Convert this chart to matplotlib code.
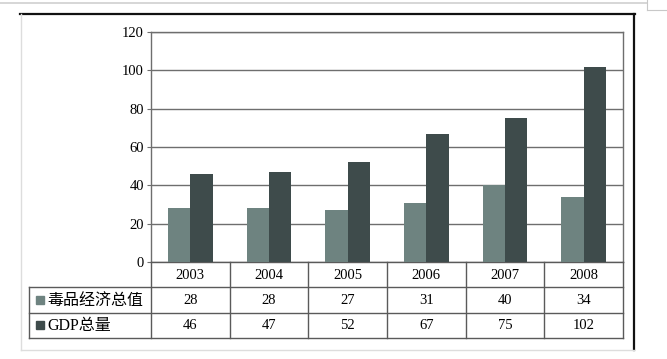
import numpy as np
import matplotlib

matplotlib.use("Agg")
import matplotlib.pyplot as plt
from matplotlib.lines import Line2D
from matplotlib.patches import Rectangle

years = ["2003", "2004", "2005", "2006", "2007", "2008"]
drug_values = [28, 28, 27, 31, 40, 34]
gdp_values = [46, 47, 52, 67, 75, 102]
series_names = ["毒品经济总值", "GDP总量"]
y_ticks = [0, 20, 40, 60, 80, 100, 120]

plt.rcParams["font.family"] = ["Liberation Serif", "Noto Sans CJK SC"]

W, H = 667, 359
c_drug = "#6e8380"
c_gdp = "#3e4b4b"
line_c = "#5a5a5a"


def fx(px):
    return px / W


def fy(py):
    return 1 - py / H


fig = plt.figure(figsize=(W / 100, H / 100), dpi=100)
fig.patch.set_facecolor("white")

# chart area
ax = fig.add_axes([fx(151), fy(262), (623 - 151) / W, (262 - 32) / H])
x = np.arange(len(years))
w = 0.285
ax.bar(x - w / 2, drug_values, w, color=c_drug, zorder=3)
ax.bar(x + w / 2, gdp_values, w, color=c_gdp, zorder=3)
ax.set_xlim(-0.5, len(years) - 0.5)
ax.set_ylim(0, 120)
ax.set_yticks(y_ticks)
ax.set_xticks([])
ax.yaxis.grid(True, color="#6e6e6e", lw=1.0)
ax.set_axisbelow(True)
for s in ax.spines.values():
    s.set_color("#6e6e6e")
    s.set_linewidth(1.0)
ax.spines["bottom"].set_color(line_c)
ax.tick_params(axis="y", length=3, width=0.8, color="#6e6e6e", pad=2, labelsize=10.5)

# data table under the chart
col_w = (623 - 151) / len(years)
left = -0.5 - (151 - 29) / col_w
tab = fig.add_axes([fx(29), fy(338), (623 - 29) / W, (338 - 262) / H])
tab.set_xlim(left, len(years) - 0.5)
tab.set_ylim(3, 0)
tab.axis("off")

for i in range(len(years) + 1):
    tab.plot([i - 0.5, i - 0.5], [0, 3], color=line_c, lw=1.0, clip_on=False)
tab.plot([left, left], [1, 3], color=line_c, lw=1.0, clip_on=False)
for r in (1, 2, 3):
    tab.plot([left, len(years) - 0.5], [r, r], color=line_c, lw=1.0, clip_on=False)

for i, yr in enumerate(years):
    tab.text(i, 0.52, yr, ha="center", va="center", fontsize=10.5)
    tab.text(i, 1.52, str(drug_values[i]), ha="center", va="center", fontsize=10.5)
    tab.text(i, 2.52, str(gdp_values[i]), ha="center", va="center", fontsize=10.5)

for r, (name, c) in enumerate(zip(series_names, [c_drug, c_gdp])):
    sq = 8 / col_w
    tab.add_patch(Rectangle((left + 7 / col_w, r + 1.5 - 0.16), sq, 0.32,
                            color=c, clip_on=False))
    tab.text(left + 18 / col_w, r + 1.52, name, ha="left", va="center", fontsize=11.5)

# outer frame
fig.add_artist(Line2D([fx(20), fx(635)], [fy(14), fy(14)], color="#111111", lw=1.6))
fig.add_artist(Line2D([fx(634), fx(634)], [fy(14), fy(350)], color="#111111", lw=1.6))
fig.add_artist(Line2D([fx(21), fx(21)], [fy(14), fy(350)], color="#dddddd", lw=1.0))
fig.add_artist(Line2D([fx(21), fx(634)], [fy(350), fy(350)], color="#dddddd", lw=1.0))

# page edge above
fig.add_artist(Line2D([0, fx(647)], [fy(3), fy(3)], color="#d0d0d0", lw=1.2))
fig.add_artist(Line2D([fx(647), fx(647)], [fy(0), fy(10)], color="#c8c8c8", lw=0.8))
fig.add_artist(Line2D([fx(647), 1], [fy(10), fy(10)], color="#c8c8c8", lw=0.8))

fig.savefig("out.png", dpi=100)
